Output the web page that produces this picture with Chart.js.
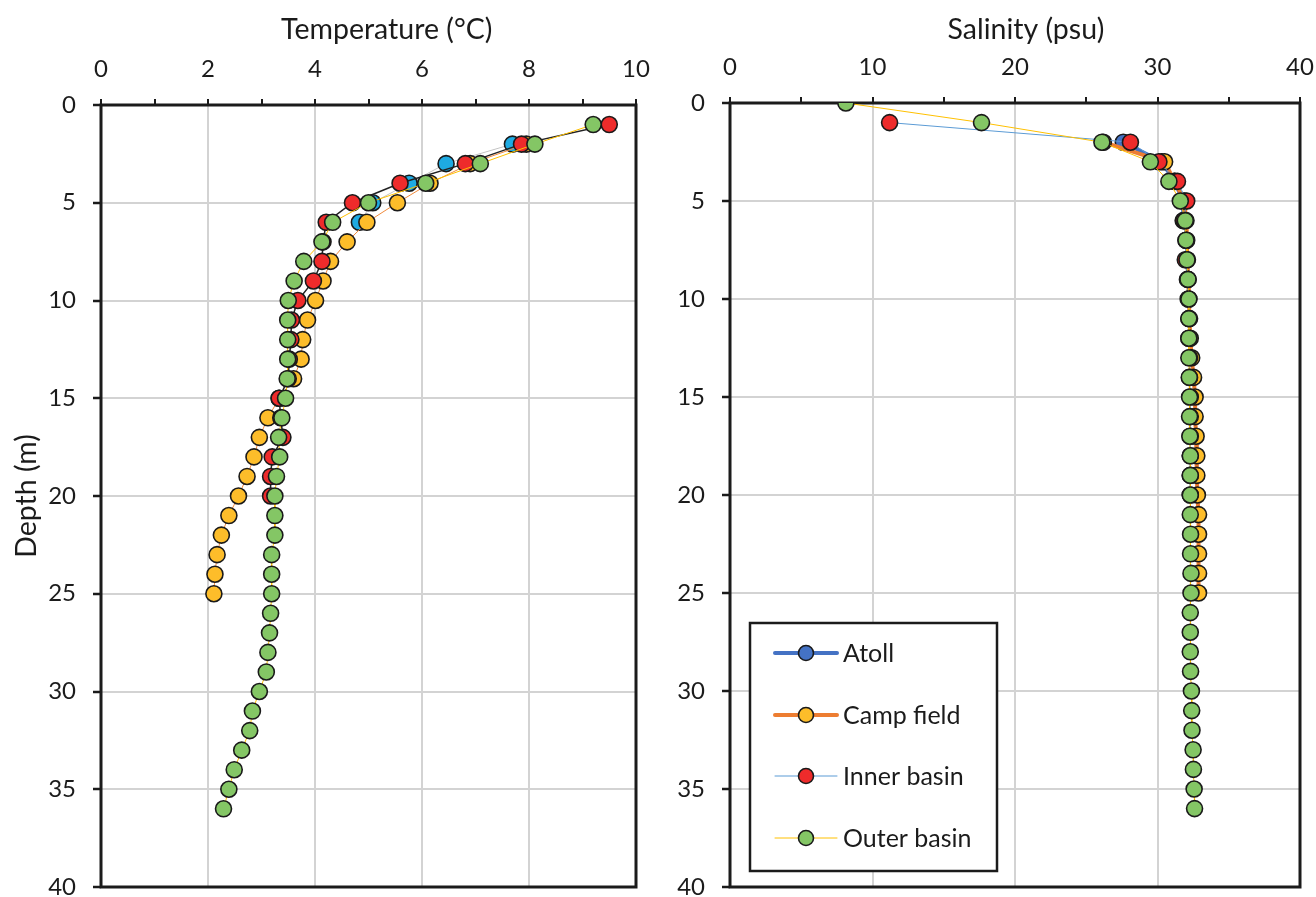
<!DOCTYPE html>
<html>
<head>
<meta charset="utf-8">
<script src="https://cdn.jsdelivr.net/npm/chart.js@4.4.0/dist/chart.umd.min.js"></script>
<style>
  body { margin: 0; background: #fff; width: 1316px; height: 897px; position: relative; overflow: hidden; }
  #tempChart { position: absolute; left: 0; top: 0; }
  #salChart { position: absolute; left: 660px; top: 0; }
</style>
</head>
<body>
<canvas id="tempChart" width="660" height="897"></canvas>
<canvas id="salChart" width="656" height="897"></canvas>
<script>
// series names
var seriesNames = ['Atoll', 'Camp field', 'Inner basin', 'Outer basin'];

// temperature profiles (depth in m, temperature in °C)
var atollTempDepth = [2, 3, 4, 5, 6];
var atollTemp = [7.69, 6.45, 5.76, 5.08, 4.83];

var campTempDepth = [2, 3, 4, 5, 6, 7, 8, 9, 10, 11, 12, 13, 14, 15, 16, 17, 18, 19, 20, 21, 22, 23, 24, 25];
var campTemp = [7.95, 6.9, 6.15, 5.54, 4.97, 4.6, 4.29, 4.15, 4.01, 3.86, 3.77, 3.74, 3.6, 3.33,
                3.12, 2.96, 2.86, 2.73, 2.57, 2.39, 2.25, 2.17, 2.13, 2.11];

var innerTempDepth = [1, 2, 3, 4, 5, 6, 7, 8, 9, 10, 11, 12, 13, 14, 15, 16, 17, 18, 19, 20];
var innerTemp = [9.5, 7.86, 6.81, 5.59, 4.7, 4.21, 4.15, 4.13, 3.97, 3.68, 3.56, 3.55, 3.52, 3.5,
                 3.33, 3.36, 3.4, 3.2, 3.17, 3.17];

var outerTempDepth = [1, 2, 3, 4, 5, 6, 7, 8, 9, 10, 11, 12, 13, 14, 15, 16, 17, 18, 19, 20,
                      21, 22, 23, 24, 25, 26, 27, 28, 29, 30, 31, 32, 33, 34, 35, 36];
var outerTemp = [9.2, 8.11, 7.09, 6.07, 5.0, 4.33, 4.13, 3.79, 3.61, 3.5, 3.49, 3.49, 3.49, 3.48,
                 3.45, 3.38, 3.32, 3.34, 3.28, 3.25, 3.25, 3.25, 3.19, 3.19, 3.19, 3.17, 3.15,
                 3.12, 3.09, 2.96, 2.83, 2.78, 2.63, 2.49, 2.39, 2.29];

// salinity profiles (depth in m, salinity in psu)
var atollSalDepth = [2, 3, 4, 5, 6];
var atollSal = [27.6, 30.3, 31.2, 31.8, 31.8];

var campSalDepth = [2, 3, 4, 5, 6, 7, 8, 9, 10, 11, 12, 13, 14, 15, 16, 17, 18, 19, 20, 21, 22, 23, 24, 25];
var campSal = [26.2, 30.5, 31.2, 31.9, 32.0, 32.05, 32.1, 32.15, 32.2, 32.25, 32.3, 32.4, 32.53,
               32.64, 32.64, 32.71, 32.76, 32.76, 32.8, 32.88, 32.88, 32.88, 32.88, 32.88];

var innerSalDepth = [1, 2, 3, 4, 5, 6, 7, 8, 9, 10, 11, 12, 13, 14, 15, 16, 17, 18, 19, 20];
var innerSal = [11.2, 28.1, 30.1, 31.4, 32.05, 31.85, 32.0, 31.95, 32.1, 32.15, 32.2, 32.2, 32.25,
                32.25, 32.3, 32.3, 32.3, 32.3, 32.3, 32.3];

var outerSalDepth = [0, 1, 2, 3, 4, 5, 6, 7, 8, 9, 10, 11, 12, 13, 14, 15, 16, 17, 18, 19, 20,
                     21, 22, 23, 24, 25, 26, 27, 28, 29, 30, 31, 32, 33, 34, 35, 36];
var outerSal = [8.13, 17.65, 26.1, 29.5, 30.8, 31.6, 31.95, 32.0, 32.07, 32.14, 32.2, 32.2, 32.2,
                32.2, 32.23, 32.25, 32.25, 32.27, 32.3, 32.3, 32.3, 32.3, 32.32, 32.32, 32.35,
                32.35, 32.3, 32.3, 32.3, 32.32, 32.38, 32.4, 32.42, 32.5, 32.52, 32.57, 32.6];

// axis ticks
var depthTicks = [0, 5, 10, 15, 20, 25, 30, 35, 40];
var tempTicks = [0, 2, 4, 6, 8, 10];
var salTicks = [0, 10, 20, 30, 40];

var FONT = 'Lato, "Open Sans", sans-serif';
var INK = '#1b1b1b';
var GRID = '#d3d3d3';
Chart.defaults.font.family = FONT;
Chart.defaults.color = INK;

function pts(xs, ys) {
  return xs.map(function (v, i) { return { x: v, y: ys[i] }; });
}

function series(label, xs, ys, lineColor, lineWidth, fill, order) {
  return {
    label: label,
    data: pts(xs, ys),
    showLine: true,
    borderColor: lineColor,
    borderWidth: lineWidth,
    pointRadius: 8,
    pointBackgroundColor: fill,
    pointBorderColor: '#1a1a1a',
    pointBorderWidth: 1.6,
    order: order
  };
}

// black frame round the plot area
var frame = {
  id: 'frame',
  beforeDatasetsDraw: function (chart) {
    var a = chart.chartArea, c = chart.ctx;
    c.save();
    c.strokeStyle = INK;
    c.lineWidth = 3;
    c.strokeRect(a.left, a.top, a.right - a.left, a.bottom - a.top);
    c.restore();
  }
};

// legend box drawn inside the salinity plot
var boxLegend = {
  id: 'boxLegend',
  afterDatasetsDraw: function (chart) {
    var c = chart.ctx;
    var bx = 90, by = 623, bw = 247, bh = 248;
    c.save();
    c.fillStyle = '#fff';
    c.fillRect(bx, by, bw, bh);
    c.strokeStyle = INK;
    c.lineWidth = 2.5;
    c.strokeRect(bx, by, bw, bh);
    var rows = [653, 715, 776, 838];
    chart.data.datasets.forEach(function (ds, i) {
      var y = rows[i];
      c.strokeStyle = ds.borderColor;
      c.lineWidth = ds.borderWidth;
      c.lineCap = 'round';
      c.beginPath();
      c.moveTo(115, y);
      c.lineTo(177, y);
      c.stroke();
      c.beginPath();
      c.arc(146, y, 7.5, 0, Math.PI * 2);
      c.fillStyle = ds.pointBackgroundColor;
      c.fill();
      c.lineWidth = 1.6;
      c.strokeStyle = '#1a1a1a';
      c.stroke();
      c.fillStyle = INK;
      c.font = '25px ' + FONT;
      c.textBaseline = 'middle';
      c.textAlign = 'left';
      c.fillText(ds.label, 183, y + 1);
    });
    c.restore();
  }
};

function makeChart(id, datasets, xTitle, xMax, xStep, xLabels, yTitle, leftW, topH, rightPad) {
  return new Chart(document.getElementById(id), {
    type: 'scatter',
    data: { datasets: datasets },
    plugins: id === 'salChart' ? [frame, boxLegend] : [frame],
    options: {
      responsive: false,
      animation: false,
      devicePixelRatio: 1,
      layout: { padding: { left: 0, top: 0, right: rightPad, bottom: 10 } },
      plugins: { legend: { display: false }, tooltip: { enabled: false } },
      scales: {
        x: {
          type: 'linear',
          position: 'top',
          min: 0,
          max: xMax,
          afterFit: function (s) {
            s.height = topH;
            s.paddingLeft = 0;
            s.paddingRight = 0;
          },
          afterBuildTicks: function (s) {
            var t = [];
            for (var v = 0; v <= xMax; v += xStep) t.push({ value: v });
            s.ticks = t;
          },
          ticks: {
            font: { size: 24 },
            padding: 15,
            maxRotation: 0,
            autoSkip: false,
            callback: function (v) { return xLabels.indexOf(v) >= 0 ? v : ''; }
          },
          border: { display: false },
          grid: {
            color: function (ctx) { return xLabels.indexOf(ctx.tick.value) >= 0 ? GRID : 'rgba(0,0,0,0)'; },
            lineWidth: 2,
            tickColor: INK,
            tickLength: 6,
            tickWidth: 2
          },
          title: {
            display: true,
            text: xTitle,
            font: { size: 28.5 },
            padding: { top: 13, bottom: 0 }
          }
        },
        y: {
          type: 'linear',
          reverse: true,
          min: 0,
          max: 40,
          afterFit: function (s) {
            s.width = leftW;
            s.paddingTop = 0;
            s.paddingBottom = 0;
          },
          afterBuildTicks: function (s) {
            s.ticks = depthTicks.map(function (v) { return { value: v }; });
          },
          ticks: { font: { size: 24 }, padding: 17 },
          border: { display: false },
          grid: {
            color: GRID,
            lineWidth: 2,
            tickColor: INK,
            tickLength: 8,
            tickWidth: 2.5
          },
          title: {
            display: !!yTitle,
            text: yTitle,
            font: { size: 28.5 },
            padding: { top: 10, bottom: 0 }
          }
        }
      }
    }
  });
}

makeChart('tempChart', [
  series(seriesNames[0], atollTemp, atollTempDepth, '#c4c4c4', 1, '#1eaae2', 4),
  series(seriesNames[1], campTemp, campTempDepth, '#f08a3c', 1, '#fdbd2a', 3),
  series(seriesNames[2], innerTemp, innerTempDepth, '#222222', 1.5, '#ee2b2b', 2),
  series(seriesNames[3], outerTemp, outerTempDepth, '#ffc000', 1, '#84c665', 1)
], '     Temperature (°C)', 10, 1, tempTicks, 'Depth (m)', 101, 105, 24);

makeChart('salChart', [
  series(seriesNames[0], atollSal, atollSalDepth, '#4472c4', 4, '#4472c4', 4),
  series(seriesNames[1], campSal, campSalDepth, '#ed7d31', 4, '#fdbd2a', 3),
  series(seriesNames[2], innerSal, innerSalDepth, '#5b9bd5', 1, '#ee2b2b', 2),
  series(seriesNames[3], outerSal, outerSalDepth, '#ffc000', 1, '#84c665', 1)
], '   Salinity (psu)', 40, 5, salTicks, '', 70, 103, 16);
</script>
</body>
</html>
